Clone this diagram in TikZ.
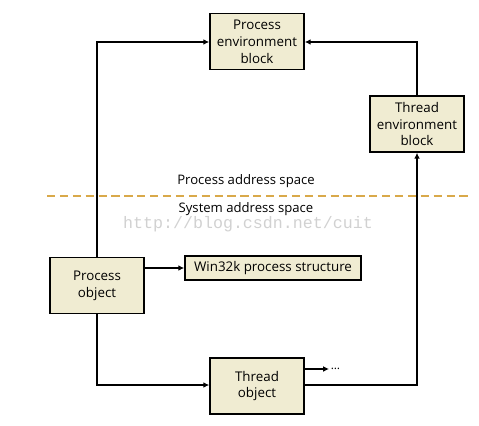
\documentclass[tikz,border=0pt]{standalone}
\usepackage{fontspec}
\setmainfont{Open Sans}
\setmonofont{Liberation Mono}
\usepackage{tikz}
\usetikzlibrary{arrows.meta, positioning}

\definecolor{boxfill}{HTML}{F0ECD2}
\definecolor{splitline}{HTML}{D9A94A}

\tikzset{
  blk/.style={draw=black, line width=1.4pt, fill=boxfill, align=center,
    font=\fontsize{11.4}{14.4}\selectfont, inner sep=0pt,
    minimum width=2.82cm, minimum height=1.68cm},
  lnk/.style={line width=1.2pt, -{Latex[length=5pt, width=5pt]}}
}

\begin{document}
\begin{tikzpicture}[x=0.03cm, y=-0.03cm]
  \useasboundingbox (0,0) rectangle (479,426);

  % Boxes
  \node[blk] (peb) at (257,41.5) {Process\\environment\\block};
  \node[blk] (teb) at (417,124) {Thread\\environment\\block};
  \node[blk] (proc) at (97,285.5) {Process\\object};
  \node[blk, minimum width=5.28cm, minimum height=0.72cm] (w32k) at (273,268)
    {Win32k process structure};
  \node[blk] (thrd) at (257,386) {Thread\\object};

  % Address space split
  \draw[splitline, line width=1.2pt, dash pattern=on 7pt off 4pt] (47,196) -- (468,196);
  \node[font=\fontsize{11.2}{13}\selectfont] (upper) at (246,181) {Process address space};
  \node[font=\fontsize{11.2}{13}\selectfont] (lower) at (246,209) {System address space};
  \node[font=\ttfamily\fontsize{14.2}{15}\selectfont, text=black!18] (mark) at (248,224)
    {http://blog.csdn.net/cuit};

  % Links
  \coordinate (pl) at (97,42);
  \coordinate (tr) at (417,42);
  \coordinate (pd) at (97,385);
  \coordinate (tb) at (417,385);
  \coordinate (more) at (329,369);
  \draw[lnk] (proc.north) -- (pl) -- (peb.west |- pl);
  \draw[lnk] (teb.north) -- (tr) -- (peb.east |- tr);
  \draw[lnk] (proc.south) -- (pd) -- (thrd.west |- pd);
  \draw[lnk] (thrd.east |- tb) -- (tb) -- (teb.south);
  \draw[lnk] (proc.east |- w32k) -- (w32k.west);
  \draw[lnk] (thrd.east |- more) -- (more) node[right, inner sep=1pt] (dots) {\dots};
\end{tikzpicture}
\end{document}
